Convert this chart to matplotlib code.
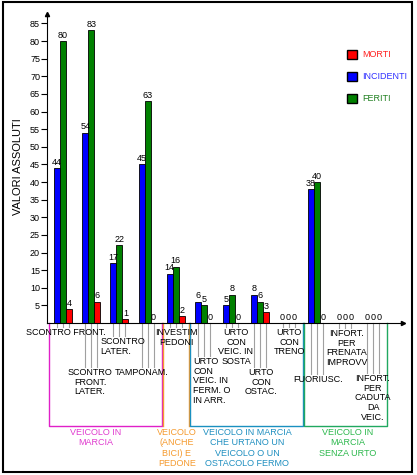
import matplotlib
matplotlib.use('Agg')
import matplotlib.pyplot as plt
from matplotlib.patches import Patch, Rectangle
from matplotlib.transforms import Affine2D, blended_transform_factory
import numpy as np

plt.rcParams['font.family'] = ['Liberation Sans', 'DejaVu Sans']

# dati
categorie = ["SCONTRO FRONT.", "SCONTRO\nFRONT.\nLATER.", "SCONTRO\nLATER.", "TAMPONAM.",
             "INVESTIM\nPEDONI", "URTO\nCON\nVEIC. IN\nFERM. O\nIN ARR.", "URTO\nCON\nVEIC. IN\nSOSTA",
             "URTO\nCON\nOSTAC.", "URTO\nCON\nTRENO", "FUORIUSC.",
             "INFORT.\nPER\nFRENATA\nIMPROVV", "INFORT.\nPER\nCADUTA\nDA\nVEIC."]
incidenti = [44, 54, 17, 45, 14, 6, 5, 8, 0, 38, 0, 0]
feriti = [80, 83, 22, 63, 16, 5, 8, 6, 0, 40, 0, 0]
morti = [4, 6, 1, 0, 2, 0, 0, 3, 0, 0, 0, 0]
gruppi = ["VEICOLO IN\nMARCIA", "VEICOLO\n(ANCHE\nBICI) E\nPEDONE",
          "VEICOLO IN MARCIA\nCHE URTANO UN\nVEICOLO O UN\nOSTACOLO FERMO",
          "VEICOLO IN\nMARCIA\nSENZA URTO"]
gruppi_cat = [(0, 3), (4, 4), (5, 8), (9, 11)]

# layout (pixel)
W, H = 417, 475
lab_x = [66, 90, 123, 142, 176, 212, 236, 261, 289, 318, 347, 373]
lab_top = [328, 368, 337, 368, 328, 357, 328, 368, 328, 375, 329, 374]
lab_align = ['center', 'center', 'left', 'center', 'center', 'left',
             'center', 'center', 'center', 'center', 'center', 'center']
gr_x = [96, 177, 247, 348]
gr_col = ['#e03ccf', '#f59a2e', '#1f8fc0', '#2db84d']
gr_line = ['#e020c8', '#f59a2e', '#1a90c0', '#20a860']

fig = plt.figure(figsize=(W / 100, H / 100), dpi=100)
ax = fig.add_axes([47 / W, 1 - 323 / H, (403 - 47) / W, (323 - 14) / H])
tp = Affine2D().scale(1, -1).translate(0, H)
bt = blended_transform_factory(ax.transData, tp)

x = np.arange(len(categorie))
w = 0.213
b1 = ax.bar(x - w, incidenti, w, color='#0000ff', edgecolor='black', lw=0.6)
b2 = ax.bar(x, feriti, w, color='#008000', edgecolor='black', lw=0.6)
b3 = ax.bar(x + w, morti, w, color='#ff0000', edgecolor='black', lw=0.6)
for b in (b1, b2, b3):
    ax.bar_label(b, padding=1, fontsize=6.5)

for s in ['top', 'right']:
    ax.spines[s].set_visible(False)
ax.set_xticks([])
ax.set_yticks(range(5, 90, 5))
ax.tick_params(axis='y', length=4, width=0.8, labelsize=6.5, pad=1)
ax.plot([0], [1], marker='^', ms=3, color='black', transform=ax.transAxes, clip_on=False)
ax.plot([1], [0], marker='>', ms=3, color='black', transform=ax.transAxes, clip_on=False)

# etichette categorie con linee guida
for i, lab in enumerate(categorie):
    for xc in (i - w, i, i + w):
        ax.plot([xc, xc], [323, lab_top[i] - 1], transform=bt, color='#a0a0a0', lw=0.8, clip_on=False)
    fig.text(lab_x[i], lab_top[i], lab, transform=tp, ha='center', va='top',
             multialignment=lab_align[i], fontsize=6.5, linespacing=1.1)

# parentesi dei gruppi
for g, (a, b) in enumerate(gruppi_cat):
    l, r = a - 0.5, b + 0.5
    if g == 1:
        ax.plot([l + 0.03, l + 0.03], [323, 426], transform=bt, color=gr_line[g], lw=1, clip_on=False)
        ax.plot([r - 0.03, r - 0.03], [323, 426], transform=bt, color=gr_line[g], lw=1, clip_on=False)
        continue
    if g == 3:
        l += 0.05
    ax.plot([l, l, r, r], [323, 426, 426, 323], transform=bt, color=gr_line[g], lw=1, clip_on=False)
for g, lab in enumerate(gruppi):
    fig.text(gr_x[g], 428, lab, transform=tp, ha='center', va='top', color=gr_col[g],
             fontsize=6.5, linespacing=1.2)

fig.text(18, 167, 'VALORI ASSOLUTI', transform=tp, rotation=90, ha='center', va='center', fontsize=8)

handles = [Patch(fc='#ff0000', ec='black'), Patch(fc='#0000ff', ec='black'), Patch(fc='#008000', ec='black')]
fig.legend(handles, ['MORTI', 'INCIDENTI', 'FERITI'], loc='upper left',
           bbox_to_anchor=(347 / W, 1 - 50 / H), frameon=False, fontsize=6.5,
           handlelength=1.1, handleheight=1.1, handletextpad=0.6, labelspacing=1.4,
           borderpad=0, borderaxespad=0, labelcolor=['#ff2020', '#3030ff', '#208020'])

fig.add_artist(Rectangle((3 / W, 3 / H), 409 / W, 470 / H, transform=fig.transFigure,
                         fill=False, ec='black', lw=1.5))

ax.set_xlim(-0.567, 12.057)
ax.set_ylim(0, 87.66)
fig.savefig('out.png', dpi=100)
